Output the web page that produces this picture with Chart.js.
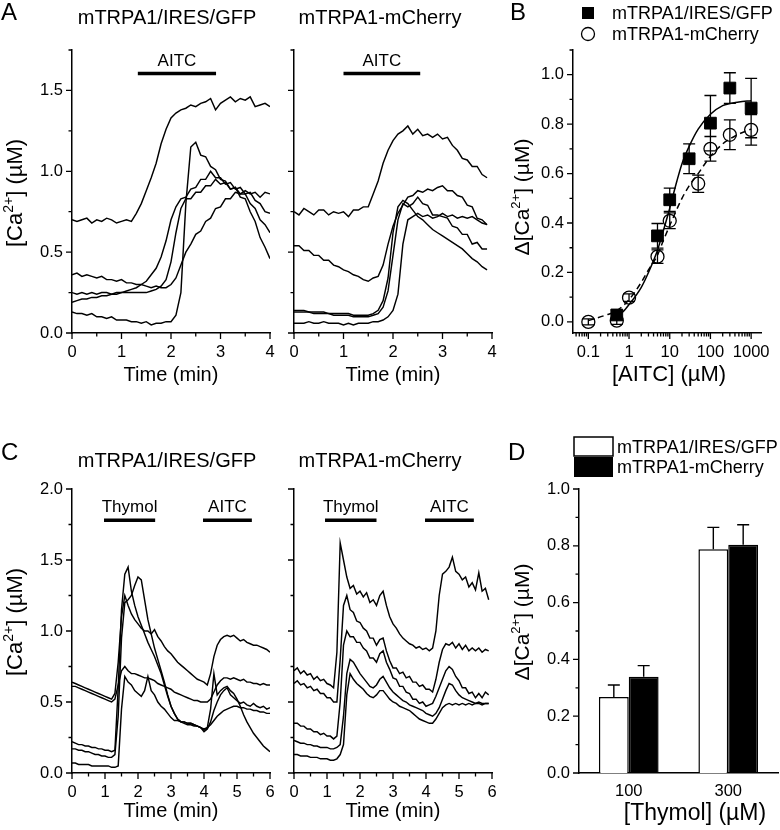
<!DOCTYPE html>
<html><head><meta charset="utf-8">
<script src="https://cdn.jsdelivr.net/npm/chart.js@4.4.1/dist/chart.umd.min.js"></script>
<style>
html,body{margin:0;padding:0;background:#fff;}
#wrap{position:relative;width:780px;height:830px;overflow:hidden;background:#fff;}
#wrap canvas{position:absolute;left:0;top:0;}
</style></head><body>
<div id="wrap">
<canvas id="cA1" width="780" height="830"></canvas>
<canvas id="cA2" width="780" height="830"></canvas>
<canvas id="cB" width="780" height="830"></canvas>
<canvas id="cC1" width="780" height="830"></canvas>
<canvas id="cC2" width="780" height="830"></canvas>
<canvas id="cD" width="780" height="830"></canvas>
</div>
<script>
// ---------------- DATA ----------------
// time axes (min)
const timeA = [0,0.1,0.2,0.3,0.4,0.5,0.6,0.7,0.8,0.9,1,1.1,1.2,1.3,1.4,1.5,1.6,1.7,1.8,1.9,2,2.1,2.2,2.3,2.4,2.5,2.6,2.7,2.8,2.9,3,3.1,3.2,3.3,3.4,3.5,3.6,3.7,3.8,3.9,4];
const timeC = [0,0.1,0.2,0.3,0.4,0.5,0.6,0.7,0.8,0.9,1,1.1,1.2,1.3,1.4,1.5,1.6,1.7,1.8,1.9,2,2.1,2.2,2.3,2.4,2.5,2.6,2.7,2.8,2.9,3,3.1,3.2,3.3,3.4,3.5,3.6,3.7,3.8,3.9,4,4.1,4.2,4.3,4.4,4.5,4.6,4.7,4.8,4.9,5,5.1,5.2,5.3,5.4,5.5,5.6,5.7,5.8,5.9,6];

// Panel A, mTRPA1/IRES/GFP traces ([Ca2+] µM)
const aGfp1 = [0.70,0.69,0.70,0.71,0.68,0.70,0.69,0.71,0.70,0.68,0.69,0.70,0.69,0.74,0.80,0.88,0.96,1.05,1.17,1.26,1.33,1.36,1.38,1.39,1.41,1.40,1.42,1.43,1.45,1.38,1.42,1.44,1.46,1.43,1.45,1.44,1.46,1.40,1.41,1.42,1.40];
const aGfp2 = [0.13,0.12,0.12,0.11,0.12,0.10,0.10,0.09,0.10,0.08,0.08,0.08,0.07,0.07,0.06,0.07,0.05,0.06,0.06,0.07,0.07,0.11,0.25,0.80,1.15,1.18,1.10,1.09,1.03,1.01,0.95,0.94,0.89,0.90,0.84,0.83,0.75,0.69,0.59,0.53,0.46];
const aGfp3 = [0.36,0.37,0.35,0.36,0.35,0.34,0.35,0.33,0.33,0.32,0.33,0.31,0.31,0.30,0.30,0.29,0.28,0.29,0.28,0.28,0.30,0.34,0.42,0.50,0.55,0.61,0.63,0.69,0.71,0.77,0.78,0.83,0.83,0.87,0.86,0.88,0.86,0.87,0.84,0.87,0.86];
const aGfp4 = [0.25,0.24,0.25,0.24,0.25,0.24,0.25,0.25,0.24,0.25,0.25,0.26,0.27,0.28,0.30,0.32,0.36,0.40,0.47,0.57,0.70,0.78,0.83,0.84,0.89,0.90,0.95,0.95,1.00,0.96,0.96,0.92,0.93,0.89,0.90,0.86,0.87,0.82,0.80,0.75,0.74];
const aGfp5 = [0.19,0.20,0.21,0.21,0.22,0.22,0.23,0.23,0.24,0.24,0.25,0.25,0.25,0.25,0.25,0.25,0.26,0.27,0.29,0.33,0.44,0.62,0.77,0.83,0.83,0.87,0.87,0.91,0.91,0.95,0.92,0.93,0.89,0.90,0.86,0.86,0.80,0.77,0.70,0.67,0.62];

// Panel A, mTRPA1-mCherry traces
const aChe1 = [0.75,0.73,0.77,0.75,0.73,0.76,0.76,0.73,0.75,0.74,0.75,0.72,0.76,0.76,0.78,0.78,0.86,0.94,1.05,1.13,1.19,1.23,1.25,1.28,1.23,1.26,1.22,1.23,1.21,1.23,1.20,1.21,1.16,1.13,1.08,1.07,1.03,1.03,0.98,0.96];
const aChe2 = [0.54,0.54,0.51,0.51,0.48,0.48,0.45,0.45,0.42,0.41,0.39,0.38,0.36,0.35,0.33,0.32,0.34,0.35,0.42,0.55,0.66,0.74,0.79,0.84,0.85,0.88,0.87,0.89,0.88,0.90,0.91,0.88,0.88,0.85,0.84,0.79,0.78,0.71,0.70,0.67];
const aChe3 = [0.14,0.14,0.14,0.13,0.13,0.13,0.13,0.12,0.12,0.12,0.12,0.12,0.11,0.11,0.11,0.11,0.12,0.14,0.20,0.34,0.62,0.78,0.82,0.80,0.76,0.72,0.70,0.67,0.64,0.62,0.60,0.58,0.56,0.54,0.52,0.49,0.46,0.44,0.41,0.39];
const aChe4 = [0.13,0.13,0.13,0.13,0.12,0.12,0.12,0.12,0.11,0.11,0.11,0.11,0.10,0.10,0.10,0.10,0.11,0.12,0.16,0.26,0.48,0.70,0.80,0.78,0.80,0.84,0.80,0.79,0.73,0.73,0.72,0.71,0.66,0.65,0.61,0.61,0.55,0.56,0.52,0.52];
const aChe5 = [0.06,0.06,0.06,0.07,0.06,0.06,0.07,0.06,0.06,0.06,0.05,0.06,0.05,0.06,0.06,0.06,0.07,0.07,0.08,0.10,0.14,0.24,0.55,0.70,0.72,0.74,0.72,0.73,0.71,0.72,0.74,0.72,0.73,0.71,0.72,0.71,0.72,0.70,0.68,0.67];

// Panel B, dose-response (AITC µM -> Δ[Ca2+] µM)
const aitcGfp = [0.5,5,10,30,100,300,1000];
const respGfp = [0.028,0.348,0.494,0.66,0.804,0.946,0.865];
const semGfp  = [0.02,0.05,0.047,0.06,0.112,0.062,0.12];
const aitcChe = [0.1,0.5,1,5,10,50,100,300,1000];
const respChe = [0.0,0.005,0.098,0.264,0.409,0.559,0.70,0.757,0.777];
const semChe  = [0.012,0.015,0.015,0.027,0.032,0.035,0.05,0.06,0.062];
// fitted curves
const fitGfpX = [0.4,0.7,1,2,3,5,7,10,15,20,30,50,100,200,500,1000];
const fitGfpY = [0.015,0.04,0.07,0.14,0.20,0.29,0.37,0.46,0.57,0.64,0.71,0.78,0.84,0.875,0.89,0.895];
const fitCheX = [0.1,0.3,0.5,1,2,3,5,7,10,20,30,50,100,200,300,500,1000];
const fitCheY = [0.005,0.03,0.045,0.09,0.16,0.21,0.27,0.33,0.39,0.50,0.55,0.60,0.67,0.72,0.74,0.76,0.78];

// Panel C, mTRPA1/IRES/GFP traces
const cGfp1 = [0.64,0.63,0.62,0.61,0.60,0.59,0.58,0.57,0.56,0.55,0.54,0.53,0.52,0.56,0.78,1.10,1.25,1.18,1.12,1.08,1.05,1.02,1.00,1.00,0.98,1.01,0.96,0.93,0.89,0.86,0.84,0.81,0.78,0.76,0.74,0.72,0.70,0.68,0.66,0.65,0.64,0.62,0.70,0.82,0.90,0.94,0.96,0.97,0.96,0.97,0.95,0.93,0.94,0.92,0.91,0.90,0.90,0.89,0.88,0.87,0.85];
const cGfp2 = [0.61,0.61,0.60,0.59,0.58,0.57,0.56,0.55,0.54,0.53,0.52,0.51,0.50,0.52,0.62,0.72,0.75,0.72,0.70,0.70,0.69,0.68,0.67,0.67,0.66,0.65,0.63,0.62,0.61,0.60,0.59,0.57,0.56,0.55,0.54,0.53,0.52,0.51,0.51,0.50,0.50,0.50,0.52,0.57,0.62,0.65,0.67,0.67,0.66,0.67,0.66,0.65,0.66,0.64,0.64,0.63,0.63,0.62,0.63,0.62,0.62];
const cGfp3 = [0.22,0.21,0.20,0.20,0.19,0.19,0.18,0.18,0.17,0.17,0.16,0.16,0.15,0.16,0.60,1.15,1.40,1.45,1.28,1.18,1.10,1.04,0.98,0.92,0.87,0.82,0.76,0.70,0.62,0.54,0.47,0.42,0.38,0.36,0.36,0.35,0.35,0.34,0.33,0.32,0.30,0.32,0.45,0.70,0.55,0.58,0.60,0.61,0.58,0.56,0.52,0.47,0.41,0.36,0.32,0.28,0.25,0.22,0.19,0.17,0.15];
const cGfp4 = [0.17,0.17,0.16,0.16,0.15,0.15,0.14,0.13,0.13,0.12,0.12,0.11,0.11,0.13,0.40,0.95,1.20,1.22,1.25,1.32,1.38,1.36,1.22,1.08,0.98,0.88,0.80,0.72,0.64,0.55,0.47,0.42,0.38,0.36,0.35,0.34,0.34,0.33,0.33,0.32,0.31,0.32,0.34,0.37,0.40,0.42,0.44,0.45,0.46,0.47,0.47,0.46,0.46,0.45,0.45,0.44,0.44,0.43,0.43,0.42,0.42];
const cGfp5 = [0.07,0.07,0.06,0.06,0.06,0.06,0.05,0.05,0.05,0.05,0.05,0.05,0.04,0.04,0.05,0.45,0.68,0.64,0.62,0.58,0.56,0.54,0.58,0.68,0.58,0.55,0.50,0.47,0.45,0.42,0.39,0.37,0.37,0.36,0.36,0.35,0.35,0.34,0.33,0.32,0.29,0.31,0.36,0.44,0.50,0.55,0.58,0.60,0.55,0.53,0.51,0.49,0.50,0.48,0.47,0.49,0.47,0.46,0.47,0.45,0.46];

// Panel C, mTRPA1-mCherry traces
const cChe1 = [0.72,0.74,0.70,0.72,0.69,0.70,0.66,0.68,0.65,0.66,0.63,0.62,0.60,0.85,1.62,1.50,1.38,1.30,1.32,1.26,1.28,1.24,1.27,1.20,1.22,1.18,1.25,1.28,1.18,1.10,1.05,1.02,0.98,0.95,0.93,0.91,0.90,0.88,0.89,0.87,0.88,0.86,0.88,1.00,1.25,1.40,1.42,1.45,1.52,1.42,1.40,1.36,1.38,1.31,1.34,1.29,1.41,1.28,1.30,1.22];
const cChe2 = [0.63,0.65,0.62,0.63,0.60,0.61,0.58,0.59,0.56,0.56,0.53,0.53,0.50,0.50,0.80,1.18,1.25,1.15,1.13,1.07,1.06,1.02,1.00,0.95,0.95,0.90,0.94,0.95,0.86,0.79,0.74,0.74,0.70,0.71,0.67,0.68,0.64,0.64,0.61,0.62,0.59,0.59,0.57,0.66,0.78,0.87,0.91,0.90,0.92,0.88,0.91,0.87,0.90,0.86,0.88,0.86,0.88,0.85,0.87,0.86];
const cChe3 = [0.35,0.35,0.33,0.33,0.31,0.31,0.29,0.29,0.27,0.28,0.26,0.26,0.24,0.26,0.50,0.90,1.00,0.96,0.96,0.92,0.92,0.88,0.86,0.81,0.81,0.78,0.84,0.86,0.78,0.73,0.67,0.66,0.61,0.61,0.57,0.56,0.52,0.52,0.49,0.50,0.47,0.48,0.49,0.54,0.60,0.66,0.72,0.75,0.73,0.68,0.65,0.60,0.60,0.56,0.57,0.53,0.56,0.53,0.57,0.55];
const cChe4 = [0.23,0.22,0.21,0.21,0.20,0.20,0.19,0.19,0.18,0.18,0.18,0.17,0.17,0.18,0.20,0.40,0.70,0.80,0.78,0.74,0.70,0.67,0.64,0.61,0.60,0.62,0.66,0.68,0.64,0.60,0.57,0.55,0.53,0.51,0.50,0.48,0.47,0.46,0.45,0.44,0.42,0.41,0.40,0.42,0.46,0.52,0.58,0.63,0.62,0.58,0.55,0.53,0.52,0.51,0.50,0.49,0.50,0.49,0.49,0.49];
const cChe5 = [0.13,0.13,0.12,0.12,0.12,0.11,0.11,0.11,0.10,0.10,0.10,0.09,0.09,0.10,0.13,0.20,0.55,0.70,0.66,0.63,0.61,0.59,0.56,0.54,0.53,0.55,0.58,0.58,0.55,0.52,0.50,0.49,0.47,0.46,0.45,0.44,0.42,0.40,0.38,0.37,0.36,0.35,0.35,0.38,0.42,0.46,0.48,0.49,0.48,0.49,0.48,0.49,0.48,0.49,0.48,0.49,0.49,0.48,0.49,0.49];

// Panel D, thymol responses
const thymolConc = ['100','300'];
const barGfp = [0.268,0.788];
const barGfpSem = [0.042,0.077];
const barChe = [0.339,0.804];
const barCheSem = [0.039,0.070];

// stimulus applications (min)
const stimNamesA = ['AITC'];
const stimGfpA = [[1.33,2.91]];
const stimCheA = [[1.0,2.55]];
const stimNamesC = ['Thymol','AITC'];
const stimGfpC = [[0.97,2.52],[3.97,5.45]];
const stimCheC = [[0.94,2.50],[3.97,5.45]];

// tick values and labels
const xTicksA = [0,1,2,3,4], xLabelsA = ['0','1','2','3','4'], xMinorA = [0.5,1.5,2.5,3.5];
const yTicksA = [0,0.5,1.0,1.5], yLabelsA = ['0.0','0.5','1.0','1.5'], yMinorA = [0.25,0.75,1.25,1.75];
const xTicksC = [0,1,2,3,4,5,6], xLabelsC = ['0','1','2','3','4','5','6'], xMinorC = [0.5,1.5,2.5,3.5,4.5,5.5];
const yTicksC = [0,0.5,1.0,1.5,2.0], yLabelsC = ['0.0','0.5','1.0','1.5','2.0'], yMinorC = [0.25,0.75,1.25,1.75];
const xTicksB = [0.1,1,10,100,1000], xLabelsB = ['0.1','1','10','100','1000'];
const yTicksB = [0,0.2,0.4,0.6,0.8,1.0], yLabelsB = ['0.0','0.2','0.4','0.6','0.8','1.0'], yMinorB = [0.1,0.3,0.5,0.7,0.9,1.1];
const yTicksD = [0,0.2,0.4,0.6,0.8,1.0], yLabelsD = ['0.0','0.2','0.4','0.6','0.8','1.0'], yMinorD = [0.1,0.3,0.5,0.7,0.9];

// ---------------- RENDERING ----------------
const FONT = '"Liberation Sans", Arial, Helvetica, sans-serif';
Chart.defaults.font.family = FONT;
Chart.defaults.color = '#000';
const TICK = 16.5;
const YW = 50, XH = 40;
const pts = (xs, ys) => ys.map((y, i) => ({x: xs[i], y: y}));
function pad(a){ return {left: a.l - YW, top: a.t, right: 780 - a.r, bottom: 830 - a.b - XH}; }
function baseOpts(a){
  return {responsive:false, maintainAspectRatio:false, animation:false, events:[],
    layout:{padding:pad(a)},
    plugins:{legend:{display:false}, tooltip:{enabled:false}, title:{display:false}}};
}
const BORDER = {display:true, color:'#000', width:1.5};
function xAxis(type, min, max, major, labels){
  return {type, min, max,
    afterBuildTicks: s => { s.ticks = major.map(v => ({value:v})); },
    afterFit: s => { s.height = XH; },
    grid:{display:false, drawTicks:false}, border:BORDER,
    ticks:{padding:10, autoSkip:false, maxRotation:0, font:{size:TICK}, color:'#000', callback:(v,i)=>labels[i]}};
}
function yAxis(min, max, major, labels, show){
  return {type:'linear', min, max,
    afterBuildTicks: s => { s.ticks = major.map(v => ({value:v})); },
    afterFit: s => { s.width = YW; },
    grid:{display:false, drawTicks:false}, border:BORDER,
    ticks:{display:show, padding:9, font:{size:TICK}, color:'#000', callback:(v,i)=>labels[i]}};
}
function tickMarks(spec){
  return {id:'tickmarks', afterDraw(chart){
    const ctx = chart.ctx, a = chart.chartArea, xs = chart.scales.x, ys = chart.scales.y;
    ctx.save(); ctx.strokeStyle = '#000'; ctx.lineWidth = 1.3; ctx.beginPath();
    const xm = (arr, len) => arr.forEach(v => { const p = xs.getPixelForValue(v); ctx.moveTo(p, a.bottom); ctx.lineTo(p, a.bottom + len); });
    const ym = (arr, len) => arr.forEach(v => { const p = ys.getPixelForValue(v); ctx.moveTo(a.left, p); ctx.lineTo(a.left - len, p); });
    xm(spec.xMajor || [], 6); xm(spec.xMinor || [], 3.5);
    ym(spec.yMajor || [], 6); ym(spec.yMinor || [], 3.5);
    ctx.stroke(); ctx.restore();
  }};
}
// text helpers: y is the vertical centre of capitals
function drawText(ctx, s, x, y, size, align){
  ctx.font = size + 'px ' + FONT; ctx.fillStyle = '#000';
  ctx.textAlign = align || 'center'; ctx.textBaseline = 'alphabetic';
  ctx.fillText(s, x, y + size * 0.358);
}
function drawRich(ctx, parts, cx, cy, size, rot){
  ctx.save(); ctx.translate(cx, cy); if (rot) ctx.rotate(-Math.PI / 2);
  ctx.fillStyle = '#000'; ctx.textAlign = 'left'; ctx.textBaseline = 'alphabetic';
  const sup = Math.round(size * 0.62);
  let total = 0;
  const w = parts.map(p => { ctx.font = (p[1] ? sup : size) + 'px ' + FONT; const m = ctx.measureText(p[0]).width; total += m; return m; });
  let x = -total / 2; const base = size * 0.358;
  parts.forEach((p, i) => { ctx.font = (p[1] ? sup : size) + 'px ' + FONT; ctx.fillText(p[0], x, p[1] ? base - size * 0.42 : base); x += w[i]; });
  ctx.restore();
}
const CA = [['[Ca',0],['2+',1],['] (\u00B5M)',0]];
const DCA = [['\u0394[Ca',0],['2+',1],['] (\u00B5M)',0]];
function textPlugin(fn){ return {id:'texts', afterDraw(chart){ const ctx = chart.ctx; ctx.save(); fn(ctx, chart); ctx.restore(); }}; }
function stimPlugin(names, ranges, level){
  return {id:'stim', afterDraw(chart){
    const ctx = chart.ctx, xs = chart.scales.x, ys = chart.scales.y;
    ctx.save();
    names.forEach((n, i) => {
      const x = (xs.getPixelForValue(ranges[i][0]) + xs.getPixelForValue(ranges[i][1])) / 2;
      drawText(ctx, n, x, ys.getPixelForValue(level), 17, 'center');
    });
    ctx.restore();
  }};
}
function traceSets(time, series, ranges, barLevel){
  const sets = series.map(s => ({data: pts(time, s), borderColor:'#000', borderWidth:1.45, pointRadius:0, tension:0, fill:false}));
  ranges.forEach(r => sets.push({data:[{x:r[0], y:barLevel},{x:r[1], y:barLevel}], borderColor:'#000', borderWidth:3.5, pointRadius:0, borderCapStyle:'butt'}));
  return sets;
}
function traceChart(id, area, time, series, xmax, ymax, xT, xL, xMin, yT, yL, yMin, showY, names, ranges, barLevel, textLevel, texts){
  const o = baseOpts(area);
  o.scales = {x: xAxis('linear', 0, xmax, xT, xL), y: yAxis(0, ymax, yT, yL, showY)};
  return new Chart(id, {type:'line', data:{datasets: traceSets(time, series, ranges, barLevel)}, options:o,
    plugins:[tickMarks({xMajor:xT, xMinor:xMin, yMajor:yT, yMinor:yMin}), stimPlugin(names, ranges, textLevel), textPlugin(texts)]});
}

// Panel A left
traceChart('cA1', {l:72, t:50, r:270, b:333}, timeA, [aGfp1,aGfp2,aGfp3,aGfp4,aGfp5], 4, 1.75,
  xTicksA, xLabelsA, xMinorA, yTicksA, yLabelsA, yMinorA, true, stimNamesA, stimGfpA, 1.605, 1.69,
  ctx => { drawText(ctx, 'A', 1, 11.5, 24, 'left'); drawText(ctx, 'mTRPA1/IRES/GFP', 167, 17, 20);
           drawRich(ctx, CA, 14, 193, 22, true); drawText(ctx, 'Time (min)', 171, 374, 20); });
// Panel A right
traceChart('cA2', {l:294, t:50, r:492, b:333}, timeA, [aChe1,aChe2,aChe3,aChe4,aChe5], 4, 1.75,
  xTicksA, xLabelsA, xMinorA, yTicksA, yLabelsA, yMinorA, false, stimNamesA, stimCheA, 1.605, 1.69,
  ctx => { drawText(ctx, 'mTRPA1-mCherry', 380, 17, 20); drawText(ctx, 'Time (min)', 393, 374, 20); });
// Panel C left
traceChart('cC1', {l:72, t:489, r:270, b:773}, timeC, [cGfp1,cGfp2,cGfp3,cGfp4,cGfp5], 6, 2.0,
  xTicksC, xLabelsC, xMinorC, yTicksC, yLabelsC, yMinorC, true, stimNamesC, stimGfpC, 1.78, 1.88,
  ctx => { drawText(ctx, 'C', 1, 451, 24, 'left'); drawText(ctx, 'mTRPA1/IRES/GFP', 167, 460, 20);
           drawRich(ctx, CA, 14, 622, 22, true); drawText(ctx, 'Time (min)', 171, 810, 20); });
// Panel C right
traceChart('cC2', {l:294, t:489, r:492, b:773}, timeC, [cChe1,cChe2,cChe3,cChe4,cChe5], 6, 2.0,
  xTicksC, xLabelsC, xMinorC, yTicksC, yLabelsC, yMinorC, false, stimNamesC, stimCheC, 1.78, 1.88,
  ctx => { drawText(ctx, 'mTRPA1-mCherry', 380, 460, 20); drawText(ctx, 'Time (min)', 393, 810, 20); });

// Panel B
(function(){
  const area = {l:573, t:50, r:771, b:333};
  const o = baseOpts(area);
  const xMinorB = [];
  [0.01,0.1,1,10,100].forEach(d => { for (let k = 2; k <= 9; k++) { const v = d * k; if (v >= 0.042 && v <= 1800) xMinorB.push(v); } });
  o.scales = {x: xAxis('logarithmic', 0.042, 1800, xTicksB, xLabelsB), y: yAxis(-0.045, 1.1, yTicksB, yLabelsB, true)};
  const err = {id:'errB', afterDatasetsDraw(chart){
    const ctx = chart.ctx, xs = chart.scales.x, ys = chart.scales.y;
    ctx.save(); ctx.strokeStyle = '#000'; ctx.lineWidth = 1.3; ctx.beginPath();
    [[aitcGfp,respGfp,semGfp],[aitcChe,respChe,semChe]].forEach(([X,Y,E]) => X.forEach((x, i) => {
      const px = xs.getPixelForValue(x), p1 = ys.getPixelForValue(Y[i] + E[i]), p0 = ys.getPixelForValue(Y[i] - E[i]);
      ctx.moveTo(px, p0); ctx.lineTo(px, p1);
      ctx.moveTo(px - 6, p1); ctx.lineTo(px + 6, p1);
      ctx.moveTo(px - 6, p0); ctx.lineTo(px + 6, p0);
    }));
    ctx.stroke(); ctx.restore();
  }};
  new Chart('cB', {type:'line', data:{datasets:[
    {data: pts(fitGfpX, fitGfpY), borderColor:'#000', borderWidth:1.5, pointRadius:0, cubicInterpolationMode:'monotone', fill:false},
    {data: pts(fitCheX, fitCheY), borderColor:'#000', borderWidth:1.5, borderDash:[6,4], pointRadius:0, cubicInterpolationMode:'monotone', fill:false},
    {data: pts(aitcGfp, respGfp), showLine:false, pointStyle:'rect', pointRadius:8.3, backgroundColor:'#000', borderColor:'#000', borderWidth:1},
    {data: pts(aitcChe, respChe), showLine:false, pointStyle:'circle', pointRadius:6.5, backgroundColor:'#fff', borderColor:'#000', borderWidth:1.3}
  ]}, options:o, plugins:[tickMarks({xMajor:xTicksB, xMinor:xMinorB, yMajor:yTicksB, yMinor:yMinorB}), err,
    textPlugin(ctx => {
      drawText(ctx, 'B', 510, 11.5, 24, 'left');
      ctx.fillStyle = '#000'; ctx.fillRect(582, 7, 12, 12);
      ctx.beginPath(); ctx.arc(588, 34, 6.5, 0, Math.PI * 2); ctx.fillStyle = '#fff'; ctx.fill(); ctx.lineWidth = 1.3; ctx.strokeStyle = '#000'; ctx.stroke();
      drawText(ctx, 'mTRPA1/IRES/GFP', 612, 13, 18, 'left');
      drawText(ctx, 'mTRPA1-mCherry', 612, 34, 18, 'left');
      drawRich(ctx, DCA, 521, 197, 21, true);
      drawText(ctx, '[AITC] (\u00B5M)', 669, 373, 22);
    })]});
})();

// Panel D
(function(){
  const area = {l:579, t:489, r:778, b:773};
  const o = baseOpts(area);
  o.scales = {
    x: {type:'category', afterFit: s => { s.height = XH; }, grid:{display:false, drawTicks:false}, border:BORDER,
        ticks:{padding:9, font:{size:TICK}, color:'#000'}},
    y: yAxis(0, 1.0, yTicksD, yLabelsD, true)};
  const err = {id:'errD', afterDatasetsDraw(chart){
    const ctx = chart.ctx, ys = chart.scales.y;
    ctx.save(); ctx.strokeStyle = '#000'; ctx.lineWidth = 1.4; ctx.beginPath();
    [[barGfp, barGfpSem],[barChe, barCheSem]].forEach(([V,E], di) => {
      const meta = chart.getDatasetMeta(di);
      V.forEach((v, i) => { const el = meta.data[i]; const top = ys.getPixelForValue(v + E[i]);
        ctx.moveTo(el.x, el.y); ctx.lineTo(el.x, top); ctx.moveTo(el.x - 6, top); ctx.lineTo(el.x + 6, top); });
    });
    ctx.stroke(); ctx.restore();
  }};
  new Chart('cD', {type:'bar', data:{labels: thymolConc, datasets:[
    {data: barGfp, backgroundColor:'#fff', borderColor:'#000', borderWidth:1.5, categoryPercentage:0.6, barPercentage:1.0},
    {data: barChe, backgroundColor:'#000', borderColor:'#000', borderWidth:1.5, categoryPercentage:0.6, barPercentage:1.0}
  ]}, options:o, plugins:[tickMarks({yMajor:yTicksD, yMinor:yMinorD}), err,
    textPlugin(ctx => {
      drawText(ctx, 'D', 508, 451, 24, 'left');
      ctx.fillStyle = '#fff'; ctx.fillRect(574, 437, 39, 19); ctx.lineWidth = 1.5; ctx.strokeStyle = '#000'; ctx.strokeRect(574, 437, 39, 19);
      ctx.fillStyle = '#000'; ctx.fillRect(574, 457, 39, 20);
      drawText(ctx, 'mTRPA1/IRES/GFP', 617, 447, 18, 'left');
      drawText(ctx, 'mTRPA1-mCherry', 617, 467, 18, 'left');
      drawRich(ctx, DCA, 521, 622, 21, true);
      drawText(ctx, '[Thymol] (\u00B5M)', 695, 812, 23);
    })]});
})();
</script>
</body></html>
